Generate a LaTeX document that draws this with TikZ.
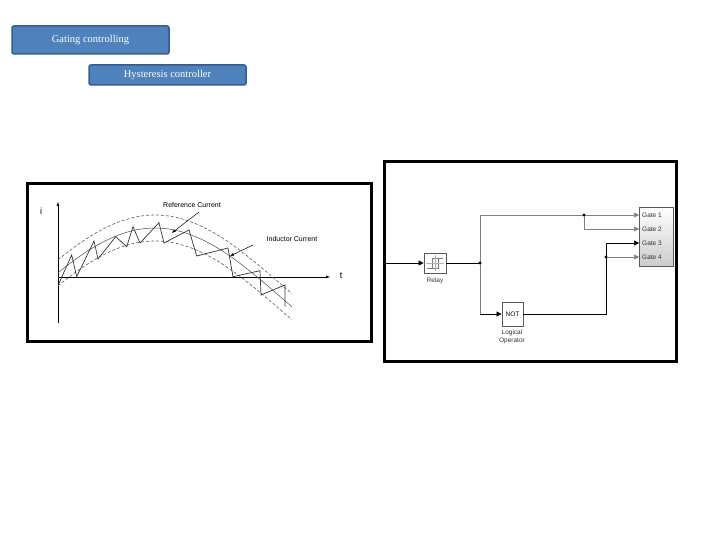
\documentclass[tikz,border=0pt]{standalone}
\usepackage{fontspec}
\setmainfont{Liberation Serif}
\newfontfamily\sansf{Liberation Sans}
\usetikzlibrary{arrows.meta}
\definecolor{boxfill}{HTML}{4F81BD}
\definecolor{boxline}{HTML}{385D8A}
\tikzset{
 x=1pt,y=-1pt,
 titlebox/.style={draw=boxline,line width=1.5pt,fill=boxfill,rounded corners=2pt,text=white,font=\fontsize{10.5}{12}\selectfont,inner sep=0pt},
 frame/.style={draw=black,line width=3pt},
 dashc/.style={densely dashed,gray!70!black,line width=0.6pt},
 sig/.style={line width=0.6pt,-{Triangle[length=5pt,width=5pt]}},
 wire/.style={line width=0.6pt},
 gwire/.style={line width=0.6pt,gray},
 blk/.style={draw=gray!70!black,line width=0.8pt,fill=white,inner sep=0pt},
 small/.style={font=\sansf\fontsize{6.5}{7.5}\selectfont,text=black!80},
 dot/.style={circle,fill=black,inner sep=0pt,minimum size=3.2pt}
}
\begin{document}
\begin{tikzpicture}
\useasboundingbox (0,0) rectangle (720,540);
\node[titlebox,minimum width=157pt,minimum height=28pt] (g) at (90.5,40) {Gating controlling};
\node[titlebox,minimum width=157pt,minimum height=20pt] (h) at (167.5,75) {Hysteresis controller};
% left figure
\draw[frame] (27,184) rectangle (371,341);
\coordinate (o) at (58,277);
\coordinate (yt) at (58,202);
\coordinate (yb) at (58,323);
\coordinate (xt) at (330,277);
\draw[line width=0.5pt] (yb) -- (o);
\draw[line width=0.5pt,-{Latex[length=4pt]}] (o) -- (yt);
\draw[line width=0.5pt,-{Latex[length=4pt]}] (o) -- (xt);
\node[font=\sansf\fontsize{9}{10}\selectfont] (il) at (41,211) {i};
\node[font=\sansf\fontsize{9}{10}\selectfont] (tl) at (341,276) {t};
\draw[dashc] plot[domain=58:292,samples=60,smooth] (\x,{298-70*cos(0.71*(\x-155))-13});
\draw[dashc] plot[domain=58:292,samples=60,smooth] (\x,{298-70*cos(0.71*(\x-155))+13});
\draw[line width=0.5pt,black!70] plot[domain=58:292,samples=60,smooth] (\x,{298-70*cos(0.71*(\x-155))});
\draw[line width=0.7pt,black!80] (58.7,284)--(71.7,255)--(76.7,276.7)--(94,241)--(98,259)--(115.7,236.7)--(126.7,246.7)--(133,226.7)--(140,243)--(159,222.7)--(164,243)--(189,230)--(196.7,256)--(228,248)--(233,276.7)--(260,270.7)--(261,295)--(285,285)--(285,306.7);
\node[font=\sansf\fontsize{7}{8}\selectfont] (rc) at (192,205) {Reference Current};
\node[font=\sansf\fontsize{7}{8}\selectfont] (ic) at (292,239) {Inductor Current};
\coordinate (rca) at (171.7,233);
\coordinate (ica) at (230,256);
\draw[line width=0.5pt,-{Latex[length=4pt]}] (199,212) -- (rca);
\draw[line width=0.5pt,-{Latex[length=4pt]}] (253,245) -- (ica);
% right figure
\draw[frame] (384,162) rectangle (676,361);
\node[blk,minimum width=22pt,minimum height=20pt] (relay) at (435,263) {};
\draw[line width=0.4pt,gray] (427,268)--(432,268)--(432,258)--(439,258);
\draw[line width=0.4pt,gray] (431,268)--(438,268)--(438,258)--(443,258);
\draw[line width=0.3pt,gray!60] (435,255)--(435,271) (426,263)--(444,263);
\node[small] at (435,281) {Relay};
\node[blk,minimum width=21pt,minimum height=24pt,font=\sansf\fontsize{6.5}{7}\selectfont] (not) at (512.5,314) {NOT};
\node[small,align=center,inner sep=0pt] at (512,337) {Logical\\Operator};
\node[draw=gray!70!black,line width=0.6pt,top color=white,bottom color=gray!40,minimum width=34pt,minimum height=59pt,inner sep=0pt] (sub) at (656,236.5) {};
\coordinate (in0) at (385,263);
\coordinate (j1) at (480,263);
\coordinate (jt) at (480,215);
\coordinate (jb) at (480,314);
\coordinate (j2) at (584,215);
\coordinate (j2b) at (584,229);
\coordinate (k1) at (606,314);
\coordinate (k2) at (606,243);
\coordinate (j3) at (606,257);
\coordinate (p1) at (639,215);
\coordinate (p2) at (639,229);
\coordinate (p3) at (639,243);
\coordinate (p4) at (639,257);
\draw[sig] (in0) -- (relay.west);
\draw[wire] (relay.east) -- (j1);
\draw[gwire] (jt) -- (jb);
\draw[sig,gray] (jt) -- (p1);
\draw[sig,gray] (j2) -- (j2b) -- (p2);
\draw[sig] (jb) -- (not.west);
\draw[wire] (not.east) -- (k1) -- (k2);
\draw[sig] (k2) -- (p3);
\draw[sig,gray] (j3) -- (p4);
\node[dot] at (j1) {};
\node[dot] at (j2) {};
\node[dot] at (j3) {};
\foreach \n/\yy in {1/215,2/229,3/243,4/257}
 \node[small,anchor=west,inner sep=0pt] at (642,\yy) {Gate \n};
\end{tikzpicture}
\end{document}
